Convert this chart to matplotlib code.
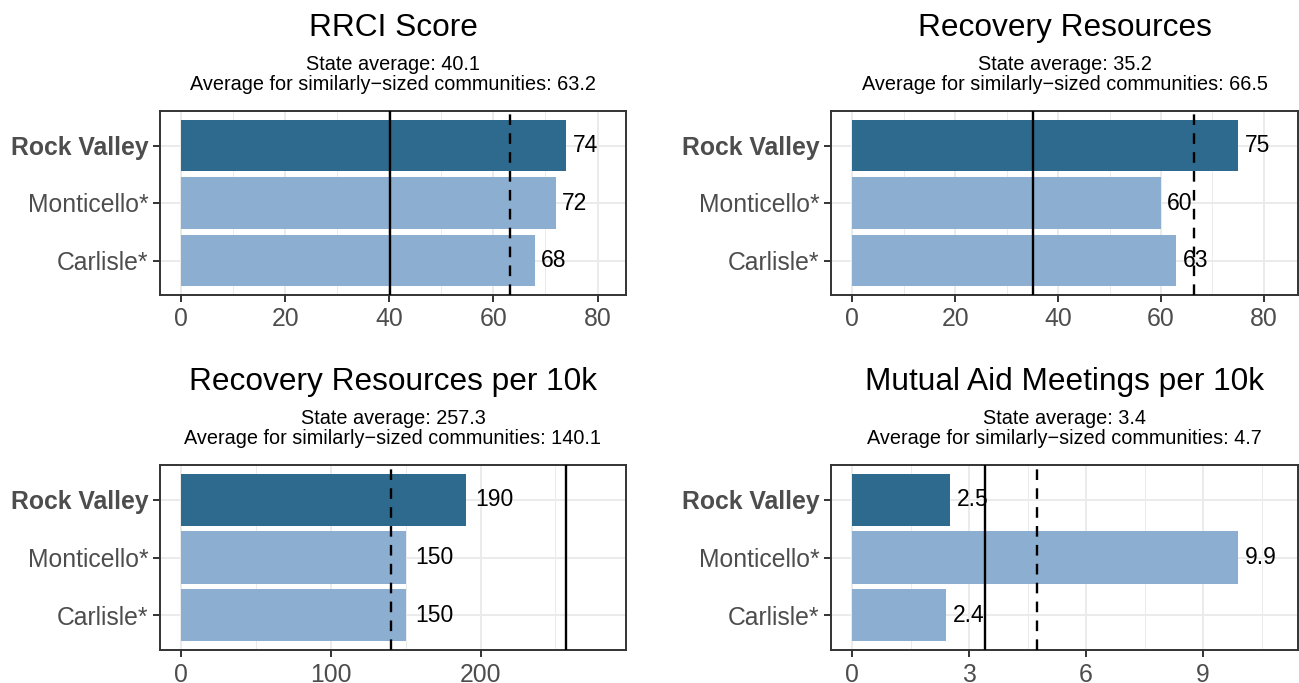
import matplotlib
matplotlib.use("Agg")
import matplotlib.pyplot as plt
from matplotlib.ticker import MultipleLocator

plt.rcParams['font.family'] = ['Liberation Sans', 'DejaVu Sans']

# ---- data ----
communities = ["Rock Valley", "Monticello*", "Carlisle*"]
titles = ["RRCI Score", "Recovery Resources",
          "Recovery Resources per 10k", "Mutual Aid Meetings per 10k"]
rrci_score = [74, 72, 68]
recovery_resources = [75, 60, 63]
resources_per_10k = [190, 150, 150]
meetings_per_10k = [2.5, 9.9, 2.4]
bar_labels = [["74", "72", "68"], ["75", "60", "63"],
              ["190", "150", "150"], ["2.5", "9.9", "2.4"]]
state_avg = [40.1, 35.2, 257.3, 3.4]
peer_avg = [63.2, 66.5, 140.1, 4.74]
tick_steps = [20, 20, 100, 3]

series = [rrci_score, recovery_resources, resources_per_10k, meetings_per_10k]

# ---- style ----
DARK = "#2E6A8E"
LIGHT = "#8CAED1"
GRID = "#EBEBEB"
BORDER = "#333333"
TICKTXT = "#4D4D4D"
label_pad = [4.5, 4.5, 7, 5]

W, H = 1299, 683
fig = plt.figure(figsize=(W / 100, H / 100), dpi=100)

col_x = [160, 831]
col_w = [466, 467]
row_top = [111, 465]
row_h = [184, 185]

for i in range(4):
    r, c = divmod(i, 2)
    left = col_x[c] / W
    bottom = 1 - (row_top[r] + row_h[r]) / H
    ax = fig.add_axes([left, bottom, col_w[c] / W, row_h[r] / H])
    vals = series[i]
    ypos = [3, 2, 1]
    colors = [DARK, LIGHT, LIGHT]
    R = 1.1 * max(vals + [state_avg[i], peer_avg[i]])
    ax.set_xlim(-0.05 * R, 1.05 * R)
    ax.set_ylim(0.4, 3.6)

    ax.xaxis.set_major_locator(MultipleLocator(tick_steps[i]))
    ax.xaxis.set_minor_locator(MultipleLocator(tick_steps[i] / 2))
    ax.set_yticks(ypos)
    ax.set_yticklabels(communities)
    ax.get_yticklabels()[0].set_fontweight('bold')

    ax.grid(True, which='major', axis='both', color=GRID, lw=1.4, zorder=0)
    ax.grid(True, which='minor', axis='x', color=GRID, lw=0.7, zorder=0)
    ax.set_axisbelow(True)

    ax.barh(ypos, vals, height=0.9, color=colors, zorder=2)
    for y, v, lab in zip(ypos, vals, bar_labels[i]):
        ax.annotate(lab, (v, y), xytext=(label_pad[i], 0), textcoords='offset points',
                    ha='left', va='center', fontsize=16.5, color='black', zorder=4)

    ax.axvline(state_avg[i], color='black', lw=1.7, zorder=3)
    ax.axvline(peer_avg[i], color='black', lw=1.7, ls=(0, (4.5, 3.5)), zorder=3)

    for s in ax.spines.values():
        s.set_color(BORDER)
        s.set_linewidth(1.4)
    ax.tick_params(axis='both', which='major', length=5, width=1.4, color=BORDER,
                   labelsize=17.8, labelcolor=TICKTXT)
    ax.tick_params(axis='x', which='major', pad=4)
    ax.tick_params(axis='y', which='major', pad=3.5)
    ax.tick_params(axis='x', which='minor', length=0)

    cx = (col_x[c] + col_w[c] / 2) / W
    off = 354 * r
    fig.text(cx, 1 - (36 + off) / H, titles[i], ha='center', va='baseline',
             fontsize=22.8, color='black')
    fig.text(cx, 1 - (70.5 + off) / H, f"State average: {state_avg[i]:.1f}",
             ha='center', va='baseline', fontsize=14.3, color='black')
    fig.text(cx, 1 - (90.5 + off) / H,
             f"Average for similarly\u2212sized communities: {peer_avg[i]:.1f}",
             ha='center', va='baseline', fontsize=14.3, color='black')

fig.savefig("out.png", dpi=100)
